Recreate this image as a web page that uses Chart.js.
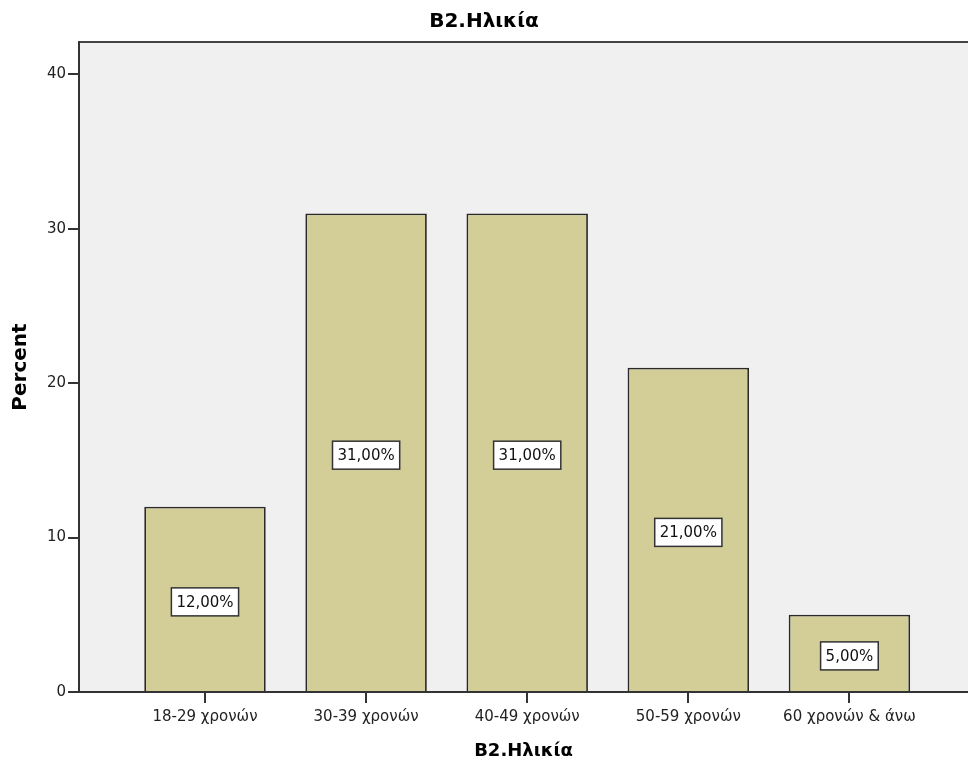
<!DOCTYPE html>
<html>
<head>
<meta charset="utf-8">
<script src="https://cdn.jsdelivr.net/npm/chart.js@4/dist/chart.umd.min.js"></script>
<style>
  html, body { margin: 0; padding: 0; overflow: hidden; background: #fff; }
  canvas { display: block; }
</style>
</head>
<body>
<canvas id="chart" width="968" height="767"></canvas>
<script>
// Chart data
const categories = ['18-29 χρονών', '30-39 χρονών', '40-49 χρονών', '50-59 χρονών', '60 χρονών & άνω'];
const percents = [12, 31, 31, 21, 5];
const yTicks = [0, 10, 20, 30, 40];

const FONT = '"DejaVu Sans", Verdana, sans-serif';

// Grey plot background with a top border line
const plotBackground = {
  id: 'plotBackground',
  beforeDraw(chart) {
    const { ctx, chartArea: a } = chart;
    ctx.save();
    ctx.fillStyle = '#f0f0f0';
    ctx.fillRect(a.left, a.top, a.right - a.left, a.bottom - a.top);
    ctx.strokeStyle = '#444';
    ctx.lineWidth = 2;
    ctx.beginPath();
    ctx.moveTo(a.left, a.top);
    ctx.lineTo(a.right, a.top);
    ctx.stroke();
    ctx.restore();
  }
};

// Boxed percentage labels in the middle of each bar
const barLabels = {
  id: 'barLabels',
  afterDatasetsDraw(chart) {
    const { ctx } = chart;
    const meta = chart.getDatasetMeta(0);
    ctx.save();
    ctx.font = '15px ' + FONT;
    ctx.textAlign = 'center';
    ctx.textBaseline = 'middle';
    meta.data.forEach((bar, i) => {
      const text = percents[i].toFixed(2).replace('.', ',') + '%';
      const cy = (bar.y + bar.base) / 2 + 3;
      const w = ctx.measureText(text).width + 10;
      const h = 28;
      ctx.fillStyle = '#fff';
      ctx.fillRect(bar.x - w / 2, cy - h / 2, w, h);
      ctx.strokeStyle = '#333';
      ctx.lineWidth = 1.5;
      ctx.strokeRect(bar.x - w / 2, cy - h / 2, w, h);
      ctx.fillStyle = '#111';
      ctx.fillText(text, bar.x, cy + 1);
    });
    ctx.restore();
  }
};

new Chart(document.getElementById('chart'), {
  type: 'bar',
  data: {
    labels: categories,
    datasets: [{
      data: percents.map((v, i) => ({ x: i, y: v })),
      backgroundColor: '#d3ce98',
      borderColor: '#2a2a2a',
      borderWidth: 1.8,
      barPercentage: 0.754,
      categoryPercentage: 1
    }]
  },
  options: {
    responsive: false,
    animation: false,
    layout: { padding: 0 },
    plugins: {
      legend: { display: false },
      tooltip: { enabled: false },
      title: {
        display: true,
        text: 'B2.Ηλικία',
        color: '#000',
        font: { family: FONT, size: 20, weight: 'bold' },
        padding: { top: 10, bottom: 8 }
      }
    },
    scales: {
      x: {
        type: 'linear',
        offset: false,
        min: -0.782,
        max: 4.736,
        afterBuildTicks(scale) { scale.ticks = categories.map((c, i) => ({ value: i })); },
        grid: { offset: false, drawOnChartArea: false, drawTicks: true, tickLength: 11, color: '#333', lineWidth: 2 },
        border: { color: '#333', width: 2 },
        ticks: {
          color: '#222',
          font: { family: FONT, size: 15 },
          padding: 5,
          maxRotation: 0,
          autoSkip: false,
          callback: (v) => categories[v]
        },
        title: {
          display: true,
          text: 'B2.Ηλικία',
          color: '#000',
          font: { family: FONT, size: 18, weight: 'bold' },
          padding: { top: 14, bottom: 5 }
        },
        afterFit(scale) { scale.height = 75; }
      },
      y: {
        min: 0,
        max: 42.1,
        afterBuildTicks(scale) { scale.ticks = yTicks.map(v => ({ value: v })); },
        grid: { drawOnChartArea: false, drawTicks: true, tickLength: 11, color: '#333', lineWidth: 2 },
        border: { color: '#333', width: 2 },
        ticks: { color: '#222', font: { family: FONT, size: 15 }, padding: 2 },
        title: {
          display: true,
          text: 'Percent',
          color: '#000',
          font: { family: FONT, size: 20, weight: 'bold' },
          padding: { top: 9, bottom: 0 }
        },
        afterFit(scale) { scale.width = 79; }
      }
    }
  },
  plugins: [plotBackground, barLabels]
});
</script>
</body>
</html>
